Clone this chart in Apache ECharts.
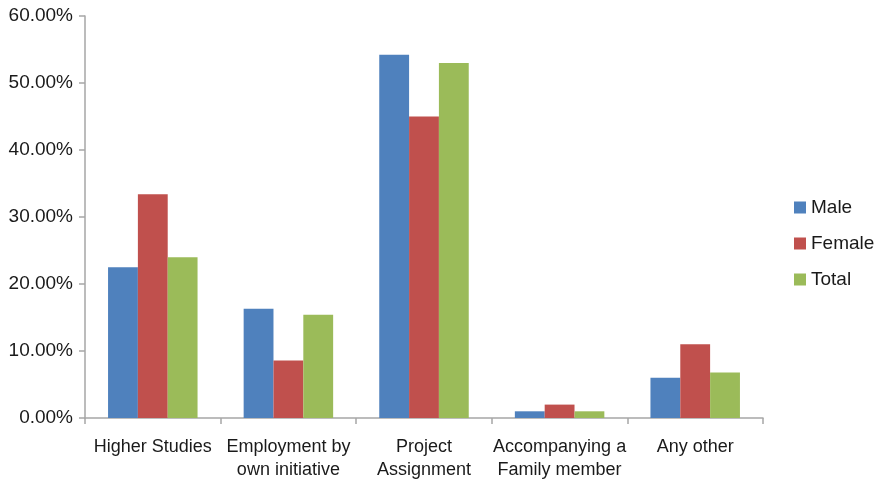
<!DOCTYPE html>
<html>
<head>
<meta charset="utf-8">
<script src="https://cdn.jsdelivr.net/npm/echarts@6/dist/echarts.min.js"></script>
<style>
  html, body { margin: 0; padding: 0; background: #ffffff; }
  #chart { width: 881px; height: 482px; }
</style>
</head>
<body>
<div id="chart"></div>
<script>
// Reasons for moving abroad, share of respondents (%)
const categories = [
  'Higher Studies',
  'Employment by\nown initiative',
  'Project\nAssignment',
  'Accompanying a\nFamily member',
  'Any other'
];
const male   = [22.5, 16.3, 54.2, 1.0, 6.0];
const female = [33.4,  8.6, 45.0, 2.0, 11.0];
const total  = [24.0, 15.4, 53.0, 1.0, 6.8];

const yTicks = { min: 0, max: 60, interval: 10 };

const FONT = 'Liberation Sans, Arial, Helvetica, sans-serif';
const AXIS_COLOR = '#a6a6a6';
const TEXT_COLOR = '#1a1a1a';

const chart = echarts.init(document.getElementById('chart'), null, { renderer: 'canvas' });

function barSeries(name, data, color) {
  return {
    name: name,
    type: 'bar',
    data: data,
    barGap: '0%',
    barCategoryGap: '34%',
    itemStyle: { color: color },
    emphasis: { disabled: true }
  };
}

chart.setOption({
  animation: false,
  backgroundColor: '#ffffff',
  textStyle: { fontFamily: FONT },
  grid: { left: 85, right: 118, top: 16, bottom: 60, containLabel: false },
  legend: {
    orient: 'vertical',
    left: 794,
    top: 197,
    padding: 0,
    itemWidth: 12,
    itemHeight: 12,
    itemGap: 15,
    icon: 'rect',
    data: ['Male', 'Female', 'Total'],
    textStyle: { fontFamily: FONT, fontSize: 19, color: TEXT_COLOR, lineHeight: 21 }
  },
  xAxis: {
    type: 'category',
    data: categories,
    axisLine: { show: true, lineStyle: { color: AXIS_COLOR, width: 1.5 } },
    axisTick: { show: true, length: 6, inside: false, lineStyle: { color: AXIS_COLOR, width: 1.5 } },
    axisLabel: {
      interval: 0,
      margin: 18,
      fontFamily: FONT,
      fontSize: 18,
      lineHeight: 23,
      color: TEXT_COLOR
    },
    splitLine: { show: false }
  },
  yAxis: {
    type: 'value',
    min: yTicks.min,
    max: yTicks.max,
    interval: yTicks.interval,
    axisLine: { show: true, lineStyle: { color: AXIS_COLOR, width: 1.5 } },
    axisTick: { show: true, length: 6, lineStyle: { color: AXIS_COLOR, width: 1.5 } },
    axisLabel: {
      margin: 12,
      fontFamily: FONT,
      fontSize: 19,
      color: TEXT_COLOR,
      formatter: v => v.toFixed(2) + '%'
    },
    splitLine: { show: false }
  },
  series: [
    barSeries('Male', male, '#4f81bd'),
    barSeries('Female', female, '#c0504d'),
    barSeries('Total', total, '#9bbb59')
  ]
});
</script>
</body>
</html>
